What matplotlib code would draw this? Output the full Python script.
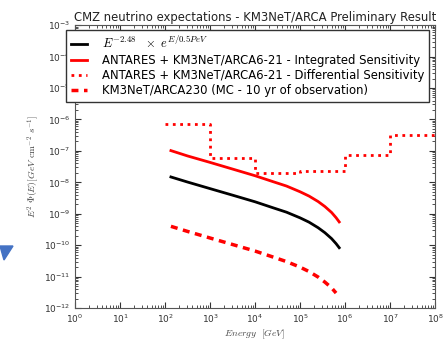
import numpy as np
import matplotlib
matplotlib.use('Agg')
import matplotlib.pyplot as plt
from matplotlib.patches import Polygon

energy = [135, 316, 1000, 3162, 1.0e4, 2.5e4, 5.0e4, 1.0e5, 1.58e5, 2.51e5, 3.55e5, 5.0e5, 6.3e5, 7.4e5]
energy_mc = [135, 316, 1000, 3162, 1.0e4, 2.5e4, 5.0e4, 1.0e5, 1.58e5, 2.51e5, 3.55e5, 5.0e5, 6.3e5]

# E^-2.48 x exp cut-off spectrum
flux_model = [1.48e-8, 1.02e-8, 6.3e-9, 3.9e-9, 2.4e-9, 1.55e-9, 1.12e-9, 7.4e-10,
              5.4e-10, 3.6e-10, 2.5e-10, 1.62e-10, 1.12e-10, 8.3e-11]
# integrated sensitivity
flux_integrated = [1.02e-7, 6.9e-8, 4.3e-8, 2.64e-8, 1.62e-8, 1.05e-8, 7.6e-9, 5.0e-9,
                   3.65e-9, 2.45e-9, 1.7e-9, 1.1e-9, 7.5e-10, 5.5e-10]
# ARCA230 MC, 10 yr
flux_arca230 = [3.98e-10, 2.74e-10, 1.69e-10, 1.05e-10, 6.5e-11, 4.2e-11, 3.0e-11, 2.0e-11,
                1.45e-11, 9.7e-12, 6.7e-12, 4.4e-12, 3.0e-12]

# differential sensitivity, one value per decade
bin_edges = [1e2, 1e3, 1e4, 1e5, 1e6, 1e7, 1e8]
flux_differential = [7.4e-7, 5.9e-8, 2.0e-8, 2.3e-8, 7.6e-8, 3.3e-7]

labels = [r'$E^{-2.48}\ \ \times\ e^{E/0.5PeV}$',
          'ANTARES + KM3NeT/ARCA6-21 - Integrated Sensitivity',
          'ANTARES + KM3NeT/ARCA6-21 - Differential Sensitivity',
          'KM3NeT/ARCA230 (MC - 10 yr of observation)']

fig = plt.figure(figsize=(4.44, 3.40), dpi=100)
ax = fig.add_axes([0.169, 0.094, 0.811, 0.832])

ax.plot(energy, flux_model, color='black', lw=2, label=labels[0])
ax.plot(energy, flux_integrated, color='red', lw=2, label=labels[1])
ax.step(bin_edges, flux_differential + [flux_differential[-1]], where='post',
        color='red', lw=2, linestyle=':', label=labels[2])
ax.plot(energy_mc, flux_arca230, color='red', lw=2.5, dashes=(2, 1.6), label=labels[3])

ax.set_xscale('log')
ax.set_yscale('log')
ax.set_xlim(1e0, 1e8)
ax.set_ylim(1e-12, 1e-3)

ax.tick_params(which='both', direction='in', top=True, right=True, labelsize=6.5, colors='#333333')
ax.tick_params(which='major', length=4)
ax.tick_params(which='minor', length=2)
for s in ax.spines.values():
    s.set_color('#555555')

ax.set_title('CMZ neutrino expectations - KM3NeT/ARCA Preliminary Result', fontsize=8.4, pad=3, color='#222222')
ax.set_xlabel(r'$Energy\ \ [GeV]$', math_fontfamily='cm', fontsize=7, color='#444444', labelpad=2)
ax.set_ylabel(r'$E^2\ \Phi(E) [GeV\ \mathrm{cm}^{-2}\ s^{-1}]$', math_fontfamily='cm', fontsize=7, color='#444444', labelpad=2)

leg = ax.legend(loc='upper left', bbox_to_anchor=(-0.025, 0.982), fontsize=8.4, borderaxespad=0,
                fancybox=False, framealpha=1, edgecolor='#333333', handlelength=1.4,
                handletextpad=1.3, labelspacing=0.2, borderpad=0.4)
leg.get_frame().set_linewidth(1)
leg.get_texts()[0].set_math_fontfamily('cm')
leg.get_texts()[0].set_fontsize(9)

# blue marker from the slide
tri = Polygon([[0 / 444, 1 - 246 / 340], [13 / 444, 1 - 246 / 340], [4 / 444, 1 - 260 / 340]],
              closed=True, transform=fig.transFigure, color='#4472c4')
fig.patches.append(tri)

fig.savefig('out.png', dpi=100)
